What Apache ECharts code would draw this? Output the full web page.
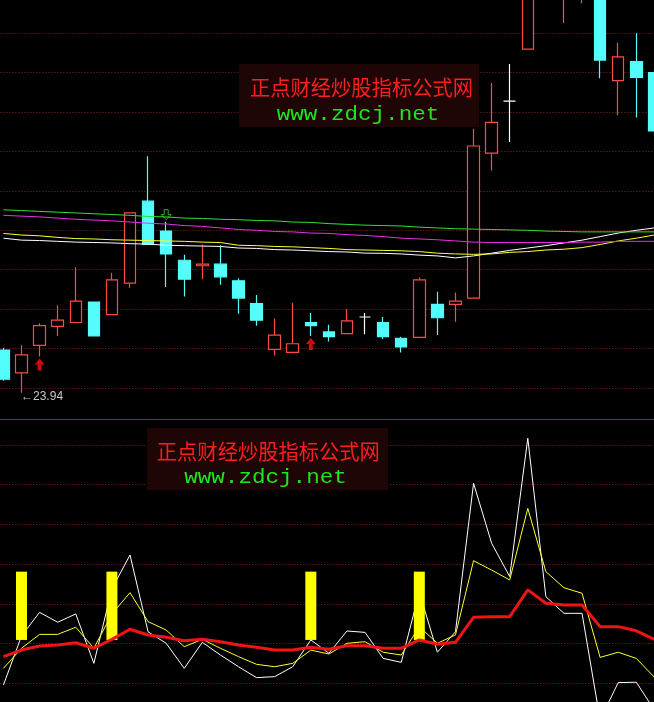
<!DOCTYPE html>
<html><head><meta charset="utf-8">
<script src="https://cdn.jsdelivr.net/npm/echarts@6/dist/echarts.min.js"></script>
<style>html,body{margin:0;padding:0;background:#000;}#c{width:654px;height:702px;}</style>
</head><body><div id="c"></div>
<script>
// ---------- data ----------
const categories = ['K01','K02','K03','K04','K05','K06','K07','K08','K09','K10','K11','K12','K13','K14','K15','K16','K17','K18','K19','K20','K21','K22','K23','K24','K25','K26','K27','K28','K29','K30','K31','K32','K33','K34','K35','K36','K37'];
const openP  = [24.48,24.19,24.54,24.78,24.83,25.09,24.93,25.33,26.37,25.99,25.62,25.55,25.57,25.36,25.07,24.49,24.45,24.83,24.71,24.69,24.90,24.83,24.63,24.64,25.06,25.06,25.14,26.98,27.64,28.30,29.30,29.10,29.10,29.30,27.90,28.14,28.00];
const closeP = [24.11,24.42,24.79,24.86,25.10,24.66,25.37,26.22,25.82,25.70,25.38,25.57,25.41,25.14,24.86,24.67,24.56,24.79,24.65,24.85,24.90,24.65,24.52,25.37,24.89,25.10,27.07,27.37,27.64,29.40,29.80,29.60,29.50,28.16,28.20,27.94,27.26];
const lowP   = [24.09,23.94,24.40,24.66,24.83,24.66,24.93,25.27,25.81,25.28,25.16,25.38,25.31,24.94,24.79,24.41,24.45,24.66,24.59,24.69,24.68,24.62,24.45,24.64,24.67,24.84,25.14,26.76,27.12,28.30,29.10,28.63,28.88,27.93,27.46,27.43,27.20];
const highP  = [24.51,24.54,24.82,25.05,25.53,25.09,25.46,26.22,26.94,26.11,25.69,25.82,25.81,25.39,25.18,24.88,25.08,24.95,24.80,25.00,24.95,24.90,24.65,25.40,25.22,25.21,27.29,27.87,28.11,29.55,29.90,29.70,29.60,29.40,28.38,28.50,28.05];

const maWhite   = [25.90,25.875,25.87,25.86,25.85,25.845,25.84,25.83,25.825,25.81,25.805,25.80,25.795,25.775,25.77,25.755,25.75,25.74,25.73,25.725,25.71,25.708,25.70,25.685,25.675,25.65,25.675,25.71,25.745,25.775,25.805,25.84,25.875,25.92,25.965,26.00,26.03];
const maYellow  = [25.96,25.94,25.93,25.91,25.895,25.89,25.88,25.875,25.87,25.865,25.86,25.85,25.845,25.81,25.805,25.795,25.79,25.78,25.77,25.755,25.75,25.745,25.74,25.73,25.71,25.70,25.695,25.70,25.72,25.73,25.75,25.76,25.78,25.82,25.865,25.90,25.94];
const maMagenta = [26.19,26.18,26.17,26.155,26.14,26.13,26.12,26.105,26.09,26.08,26.06,26.05,26.03,26.01,26.00,25.985,25.98,25.965,25.96,25.945,25.935,25.92,25.90,25.89,25.88,25.865,25.85,25.845,25.845,25.845,25.845,25.845,25.85,25.85,25.86,25.86,25.86];
const maGreen   = [26.26,26.25,26.24,26.23,26.22,26.21,26.20,26.19,26.175,26.17,26.155,26.15,26.14,26.135,26.125,26.12,26.105,26.10,26.085,26.075,26.065,26.06,26.055,26.04,26.03,26.02,26.015,26.01,26.005,26.00,25.99,25.985,25.98,25.98,25.98,25.98,25.98];

const indWhite  = [-20.9,3.8,15.7,10.7,14.9,-10.0,27.5,44.6,5.9,0.1,-12.5,0.6,-5.8,-11.7,-17.2,-16.7,-11.7,1.8,-4.9,6.3,5.6,-7.5,-9.5,25.9,-4.4,5.9,80.7,50.5,33.7,103.4,23.6,15.2,15.2,-38.5,-19.7,-19.5,-33.5];
const indYellow = [-12.5,-2.4,4.6,4.6,8.2,-2.4,14.9,25.6,11.0,6.8,-1.6,2.1,-2.4,-6.6,-10.5,-11.7,-10.0,-3.3,-5.3,0.1,0.9,-4.4,-5.8,8.5,0.1,4.3,41.7,37.0,32.0,68.1,36.2,28.1,25.3,-7.0,-4.4,-7.5,-17.0];
const indRed    = [-6.6,-3.3,-1.3,-0.8,0.4,-2.4,2.1,7.2,4.3,3.1,1.4,2.1,0.9,-0.8,-1.9,-3.3,-3.3,-1.9,-2.9,-1.1,-1.1,-2.4,-2.4,1.8,-0.4,0.6,13.2,13.5,13.5,27.0,20.3,19.4,19.4,8.5,8.5,6.4,2.1];

const signalBarIdx = [1, 6, 17, 23];
const signalBarLow = 1.8;
const signalBarHigh = 36.2;
const buyIdx = [2, 17];
const sellIdx = [9];
const lowLabelIdx = 1;
const lowLabelValue = 23.94;

const priceAxis = {min: 23.5, max: 29.0, interval: 0.5};
const indAxis = {min: -40, max: 120, interval: 20};

// ---------- build ----------
const RED = '#ff4848', CYAN = '#54fcfc';
const candleData = openP.map((o, i) => {
  const item = {value: [o, closeP[i], lowP[i], highP[i]]};
  if (o === closeP[i]) item.itemStyle = {color:'#fff', color0:'#fff', borderColor:'#fff', borderColor0:'#fff'};
  return item;
});
const barBase = categories.map((c, i) => signalBarIdx.includes(i) ? signalBarLow : null);
const barTop = categories.map((c, i) => signalBarIdx.includes(i) ? +(signalBarHigh - signalBarLow).toFixed(2) : null);
const buyData = buyIdx.map(i => [i, lowP[i]]);
const sellData = sellIdx.map(i => [i, highP[i]]);

const gridLine = {show: true, showMinLine: false, showMaxLine: false, lineStyle: {color: '#862626', type: [1, 2], width: 1}};
const hiddenAxis = {axisLine:{show:false}, axisTick:{show:false}, axisLabel:{show:false}};
const line = (name, data, color, width, xi, z) => ({
  name, type:'line', data, xAxisIndex: xi, yAxisIndex: xi, showSymbol:false, symbol:'none', z,
  lineStyle:{color, width}, itemStyle:{color}, silent:true
});

const chart = echarts.init(document.getElementById('c'), null, {renderer:'canvas'});
chart.setOption({
  backgroundColor: '#000',
  animation: false,
  grid: [
    {left: -5.6, width: 669, top: -6.1, height: 433.4, containLabel: false, outerBoundsMode: 'none'},
    {left: -5.6, width: 669, top: 405.3, height: 317.6, containLabel: false, outerBoundsMode: 'none'}
  ],
  xAxis: [
    Object.assign({type:'category', data: categories, gridIndex: 0, boundaryGap: true, splitLine:{show:false}}, hiddenAxis),
    Object.assign({type:'category', data: categories, gridIndex: 1, boundaryGap: true, splitLine:{show:false}}, hiddenAxis)
  ],
  yAxis: [
    Object.assign({type:'value', gridIndex: 0, min: priceAxis.min, max: priceAxis.max, interval: priceAxis.interval, splitLine: gridLine}, hiddenAxis),
    Object.assign({type:'value', gridIndex: 1, min: indAxis.min, max: indAxis.max, interval: indAxis.interval, splitLine: gridLine}, hiddenAxis)
  ],
  series: [
    {
      name: 'K', type: 'candlestick', xAxisIndex: 0, yAxisIndex: 0, data: candleData, barWidth: 12, z: 2, clip: true,
      itemStyle: {color: '#000', color0: CYAN, borderColor: RED, borderColor0: CYAN, borderColorDoji: '#fff', borderWidth: 1.2},
      markPoint: {
        symbol: 'rect', symbolSize: 1, itemStyle: {color: 'rgba(0,0,0,0)'}, silent: true,
        label: {show: true, position: 'right', distance: 0, offset: [-1, 4], color: '#c8c8c8', fontSize: 12,
          fontFamily: 'Liberation Sans, DejaVu Sans, sans-serif', formatter: p => '\u2190' + p.value.toFixed(2)},
        data: [{coord: [lowLabelIdx, lowLabelValue], value: lowLabelValue}]
      }
    },
    line('MA-white', maWhite, '#ffffff', 1, 0, 3),
    line('MA-yellow', maYellow, '#ffff30', 1, 0, 3),
    line('MA-magenta', maMagenta, '#e830e8', 1, 0, 3),
    line('MA-green', maGreen, '#30e030', 1, 0, 3),
    {
      name: 'buy', type: 'scatter', xAxisIndex: 0, yAxisIndex: 0, data: buyData, z: 4, silent: true,
      symbol: 'path://M5,0L10,6L7,6L7,12L3,12L3,6L0,6Z', symbolSize: [10, 12], symbolOffset: [0, 8],
      itemStyle: {color: '#ff1010'}
    },
    {
      name: 'sell', type: 'scatter', xAxisIndex: 0, yAxisIndex: 0, data: sellData, z: 4, silent: true,
      symbol: 'path://M3,0L7,0L7,5L10,5L5,10L0,5L3,5Z', symbolSize: [10, 10], symbolOffset: [0, -7],
      itemStyle: {color: 'rgba(0,0,0,0)', borderColor: '#30e030', borderWidth: 1}
    },
    line('IND-white', indWhite, '#ffffff', 1, 1, 2),
    line('IND-yellow', indYellow, '#ffff30', 1, 1, 2),
    {name:'barBase', type:'bar', xAxisIndex:1, yAxisIndex:1, stack:'sig', data: barBase, barWidth: 11, z: 3, silent:true,
      itemStyle:{color:'rgba(0,0,0,0)'}},
    {name:'signal', type:'bar', xAxisIndex:1, yAxisIndex:1, stack:'sig', data: barTop, barWidth: 11, z: 3, silent:true,
      itemStyle:{color:'#ffff00'}},
    line('IND-red', indRed, '#f01414', 3, 1, 4)
  ],
  graphic: [
    {type:'line', z: 5, shape:{x1:0, y1:419.5, x2:654, y2:419.5}, style:{stroke:'#a01c1c', lineWidth:1}},
    {type:'rect', z: 1, shape:{x:239, y:64, width:240, height:63}, style:{fill:'#1e0606'}},
    {type:'text', z: 1, x: 361.5, y: 87, scaleX: 0.965, style:{text:'正点财经炒股指标公式网', font:'21px "Noto Sans CJK SC"', fill:'#ff1e1e', align:'center', verticalAlign:'middle'}},
    {type:'text', z: 1, x: 358, y: 115, scaleX: 1.13, style:{text:'www.zdcj.net', font:'20px "Liberation Mono"', fill:'#1ee61e', align:'center', verticalAlign:'middle'}},
    {type:'rect', z: 1, shape:{x:147, y:428, width:241, height:62}, style:{fill:'#1e0606'}},
    {type:'text', z: 1, x: 268.3, y: 451, scaleX: 0.965, style:{text:'正点财经炒股指标公式网', font:'21px "Noto Sans CJK SC"', fill:'#ff1e1e', align:'center', verticalAlign:'middle'}},
    {type:'text', z: 1, x: 265.5, y: 477.5, scaleX: 1.13, style:{text:'www.zdcj.net', font:'20px "Liberation Mono"', fill:'#1ee61e', align:'center', verticalAlign:'middle'}}
  ]
});
</script></body></html>
